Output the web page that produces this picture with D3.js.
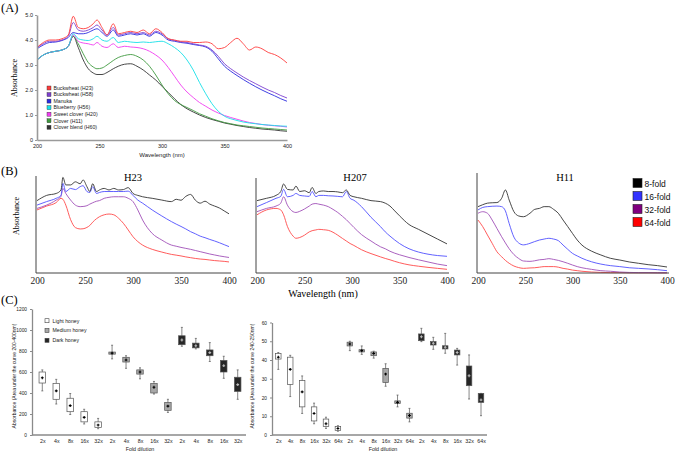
<!DOCTYPE html>
<html>
<head>
<meta charset="utf-8">
<script src="https://cdn.jsdelivr.net/npm/d3@7"></script>
<style>
  body { margin: 0; background: #fff; }
  svg { display: block; }
  text { font-family: "Liberation Sans", Arial, sans-serif; }
  .serif { font-family: "Liberation Serif", "Times New Roman", serif; }
</style>
</head>
<body>
<svg></svg>
<script>
// ---------- data: panel A (spectra of 7 honeys) ----------
const wlA = [200,205,210,215,220,225,229,233,237,241,245,248,252,256,261,265,270,275,280,285,290,295,300,305,310,315,320,325,330,335,340,345,350,355,360,365,370,375,380,385,390,395,400];
const namesA = ['Buckwheat (H23)','Buckwheat (H58)','Manuka','Blueberry (H56)','Sweet clover (H20)','Clover (H11)','Clover blend (H60)'];
const colorsA = ['#ff3b3b','#7d3fd0','#2b2be0','#17e0e8','#f03cf0','#3f9a3f','#333333'];
const absH23 = [3.7,3.9,4.0,4.0,4.05,4.2,4.95,4.5,4.45,4.5,4.65,4.8,4.5,4.2,4.65,4.25,4.3,4.35,4.3,4.4,4.25,4.45,4.3,4.05,4.0,3.95,3.95,3.9,3.9,3.92,3.85,3.65,3.7,3.9,4.07,3.85,3.6,3.72,3.65,3.5,3.42,3.28,3.08];
const absH58 = [3.7,3.85,3.95,3.95,4.0,4.15,4.7,4.4,4.35,4.4,4.5,4.6,4.4,4.2,4.5,4.2,4.25,4.3,4.25,4.3,4.2,4.35,4.25,4.05,3.98,3.93,3.9,3.85,3.8,3.75,3.6,3.35,3.05,2.85,2.68,2.52,2.38,2.25,2.12,2.0,1.9,1.78,1.68];
const absManuka = [3.65,3.8,3.9,3.92,3.98,4.1,4.3,4.25,4.25,4.3,4.4,4.45,4.3,4.15,4.4,4.15,4.2,4.25,4.2,4.25,4.15,4.3,4.2,4.0,3.95,3.9,3.87,3.82,3.78,3.72,3.55,3.25,2.95,2.75,2.58,2.42,2.27,2.13,2.0,1.88,1.77,1.65,1.55];
const absH56 = [3.2,3.4,3.5,3.55,3.6,3.75,4.25,4.05,4.0,3.98,4.05,4.15,4.0,3.95,4.1,3.9,3.95,3.92,3.9,3.92,3.9,3.93,3.95,3.85,3.7,3.5,3.2,2.8,2.3,1.85,1.45,1.15,0.95,0.85,0.78,0.72,0.68,0.65,0.62,0.6,0.58,0.56,0.55];
const absH20 = [3.2,3.4,3.5,3.55,3.6,3.75,4.2,3.95,3.88,3.85,3.8,3.9,3.75,3.7,3.85,3.7,3.75,3.72,3.7,3.65,3.55,3.4,3.2,2.9,2.55,2.2,1.92,1.7,1.5,1.35,1.2,1.08,0.98,0.9,0.83,0.76,0.7,0.66,0.62,0.59,0.57,0.55,0.52];
const absH11 = [3.2,3.4,3.5,3.55,3.6,3.75,4.15,3.85,3.45,3.1,2.92,2.85,2.88,3.0,3.18,3.3,3.38,3.42,3.35,3.2,2.95,2.6,2.2,1.85,1.58,1.42,1.3,1.18,1.05,0.95,0.85,0.77,0.7,0.65,0.6,0.57,0.54,0.51,0.48,0.46,0.44,0.42,0.4];
const absH60 = [3.2,3.4,3.5,3.55,3.6,3.75,4.15,3.7,3.2,2.85,2.68,2.62,2.62,2.7,2.85,2.95,3.03,3.05,2.95,2.8,2.6,2.4,2.15,1.9,1.65,1.42,1.25,1.12,1.0,0.9,0.82,0.75,0.68,0.63,0.58,0.54,0.5,0.47,0.44,0.42,0.4,0.37,0.35];
const seriesA = [absH23, absH58, absManuka, absH56, absH20, absH11, absH60];

// ---------- data: panel B (dilution series) ----------
const foldNames = ['8-fold','16-fold','32-fold','64-fold'];
const foldColors = ['#333333','#5050ff','#a050b8','#ff4a4a'];
const legendColors = ['#000000','#3333ff','#800080','#ff0000'];

const wlB23 = [200,210,220,225,227,230,235,240,245,248,252,255,258,262,265,270,275,280,285,290,295,300,305,310,320,330,340,345,350,355,360,365,370,375,380,385,390,395,400];
const b23_8 = [3.73,4.0,4.1,4.28,4.93,4.54,4.54,4.7,4.6,4.8,4.45,4.2,4.6,4.2,4.28,4.36,4.28,4.36,4.28,4.3,4.4,4.1,4.0,3.93,3.85,3.76,3.68,3.8,3.75,3.95,4.05,3.75,3.6,3.7,3.55,3.45,3.35,3.2,3.05];
const b23_16 = [3.5,3.68,3.85,4.0,4.62,4.2,4.36,4.3,4.45,4.5,4.2,4.15,4.45,4.1,4.15,4.2,4.2,4.2,4.2,4.2,4.22,4.0,3.76,3.6,3.25,2.94,2.65,2.52,2.4,2.27,2.13,2.02,1.9,1.82,1.73,1.65,1.56,1.46,1.36];
const b23_32 = [3.33,3.5,3.76,3.95,4.36,4.1,3.76,3.5,3.42,3.43,3.47,3.55,3.62,3.7,3.73,3.85,3.9,3.93,3.93,3.93,3.85,3.68,3.25,2.73,2.04,1.7,1.44,1.38,1.32,1.27,1.22,1.16,1.1,1.04,0.98,0.93,0.88,0.84,0.8];
const b23_64 = [3.25,3.45,3.63,3.85,3.8,3.5,2.75,2.34,2.27,2.28,2.35,2.45,2.62,2.8,2.9,3.0,3.04,3.0,2.82,2.56,2.22,1.87,1.62,1.44,1.22,1.08,0.96,0.92,0.88,0.83,0.79,0.75,0.72,0.7,0.67,0.64,0.62,0.6,0.57];

const wlB207 = [200,210,220,225,228,232,238,241,245,250,255,258,262,265,270,275,280,285,290,294,298,302,310,320,330,335,340,345,350,360,370,380,390,400];
const b207_8 = [3.73,3.85,4.0,4.2,4.59,4.31,4.28,4.48,4.2,4.24,4.14,4.41,4.1,4.2,4.23,4.2,4.2,4.18,4.14,4.28,4.0,3.93,3.85,3.73,3.68,3.6,3.45,3.2,2.95,2.5,2.25,2.0,1.75,1.5];
const b207_16 = [3.42,3.63,3.85,3.95,4.31,3.93,4.0,4.1,4.0,3.97,3.95,4.2,3.93,4.0,4.0,3.98,3.97,3.95,3.93,4.2,3.85,3.75,3.42,2.87,2.39,2.12,1.9,1.7,1.52,1.25,1.08,0.97,0.9,0.86];
const b207_32 = [3.16,3.33,3.45,3.6,3.93,3.5,3.16,3.12,3.18,3.3,3.45,3.55,3.58,3.55,3.5,3.42,3.28,3.12,2.92,2.75,2.55,2.35,1.98,1.65,1.35,1.25,1.12,1.02,0.94,0.8,0.68,0.57,0.46,0.38];
const b207_64 = [3.0,3.25,3.33,3.25,3.0,2.4,1.9,1.79,1.83,1.95,2.12,2.18,2.22,2.25,2.23,2.2,2.1,1.95,1.78,1.65,1.52,1.42,1.2,1.0,0.83,0.75,0.68,0.6,0.53,0.42,0.35,0.29,0.24,0.19];

const wlB11 = [200,205,210,215,220,225,229,233,238,243,248,255,260,265,270,275,280,285,290,295,300,305,310,320,330,340,350,360,370,380,390,400];
const b11_8 = [3.42,3.52,3.6,3.62,3.63,3.85,4.28,3.76,3.16,2.94,2.9,3.08,3.28,3.33,3.42,3.42,3.28,3.08,2.73,2.39,2.04,1.7,1.44,1.13,0.93,0.76,0.67,0.57,0.5,0.43,0.38,0.31];
const b11_16 = [3.25,3.38,3.42,3.44,3.45,3.42,3.2,2.55,1.85,1.55,1.45,1.53,1.62,1.7,1.75,1.79,1.75,1.67,1.44,1.22,1.01,0.88,0.76,0.58,0.46,0.38,0.33,0.27,0.24,0.21,0.17,0.12];
const b11_32 = [3.08,3.16,3.08,2.73,2.3,1.87,1.55,1.25,0.95,0.75,0.62,0.6,0.63,0.68,0.7,0.74,0.7,0.65,0.58,0.5,0.41,0.33,0.27,0.19,0.12,0.09,0.05,0.03,0.02,0.02,0.01,0.01];
const b11_64 = [2.73,2.39,1.96,1.53,1.1,0.84,0.65,0.5,0.36,0.28,0.24,0.26,0.27,0.3,0.33,0.33,0.33,0.3,0.24,0.2,0.15,0.12,0.09,0.05,0.03,0.02,0.02,0.01,0.01,0.01,0.01,0.01];

// ---------- data: panel C (box plots: min, q1, median, q3, max) ----------
const honeyTypes = ['Light honey','Medium honey','Dark honey'];
const honeyFills = ['#ffffff','#a8a8a8','#262626'];
const foldsLeft = ['2x','4x','8x','16x','32x'];
const foldsRight = ['2x','4x','8x','16x','32x','64x'];
const aucLight = [[420,495,545,600,620],[295,340,420,492,530],[195,222,280,350,395],[105,125,168,222,245],[60,72,95,125,158]];
const aucMedium = [[725,770,780,790,855],[635,695,715,740,755],[535,580,600,620,640],[390,400,455,490,510],[215,235,275,310,340]];
const aucDark = [[845,860,905,945,1025],[820,830,850,875,920],[700,755,785,810,880],[540,600,660,710,750],[340,415,480,550,620]];
const peakLight = [[35,40.5,41.5,43.5,44],[20.5,27,35,41.5,42.5],[11.5,15,23,29,31.5],[6,7.5,11.5,15,17],[3.5,4.5,6,8.5,9.5],[2,2.5,3.5,4.5,5]];
const peakMedium = [[45,47.5,48.5,49.5,50],[43,44.3,45,45.5,47.5],[41,42.3,43.5,44.3,44.7],[26,28,32.5,35.5,38],[15,16.8,17.4,18.2,21.3],[7,9,10.4,11.6,14.2]];
const peakDark = [[49.8,50.3,52.4,53.9,56.9],[45.7,48,48.9,49.8,52.1],[43.6,45.9,46.8,47.6,54.2],[37.3,42.7,44,45.3,46.2],[19.2,26.3,31.6,36.8,42.7],[10.3,17.4,18.7,22.2,22.2]];

const size = {w: 675, h: 452};
const svg = d3.select('svg').attr('width', size.w).attr('height', size.h);

function panelLabel(txt, x, y) {
  svg.append('text').attr('class', 'serif').attr('x', x).attr('y', y)
    .style('font-size', '12.5px').text(txt);
}

// style an axis group: gray line, small text
function styleAxis(g, color, width, fontSize, serif) {
  g.select('.domain').attr('stroke', color).attr('stroke-width', width);
  g.selectAll('.tick line').attr('stroke', color);
  g.selectAll('.tick text').attr('fill', '#222').style('font-size', fontSize)
    .attr('class', serif ? 'serif' : null);
}

// ================= panel A =================
function drawA() {
  const x = d3.scaleLinear().domain([200, 400]).range([37, 287]);
  const y = d3.scaleLinear().domain([0, 5]).range([140, 15]);
  const g = svg.append('g');

  const line = d3.line().x((d, i) => x(wlA[i])).y(d => y(d)).curve(d3.curveMonotoneX);
  // draw from the back (clover blend) to the front (buckwheat)
  for (let i = seriesA.length - 1; i >= 0; i--) {
    g.append('path').datum(seriesA[i]).attr('d', line)
      .attr('fill', 'none').attr('stroke', colorsA[i]).attr('stroke-width', 0.9);
  }

  const xa = g.append('g').attr('transform', 'translate(0,140)')
    .call(d3.axisBottom(x).tickValues([200, 250, 300, 350, 400]).tickSize(0).tickSizeOuter(0).tickPadding(4));
  styleAxis(xa, '#9a9a9a', 1.6, '5.5px');
  const ya = g.append('g').attr('transform', 'translate(37,0)')
    .call(d3.axisLeft(y).tickValues([0, 1, 2, 3, 4, 5]).tickFormat(d => d === 0 ? '0' : d.toFixed(1)).tickSize(2).tickSizeOuter(0).tickPadding(2));
  styleAxis(ya, '#9a9a9a', 1.6, '5.5px');

  g.append('text').attr('x', 162).attr('y', 157).attr('text-anchor', 'middle')
    .style('font-size', '6px').attr('fill', '#222').text('Wavelength (nm)');
  g.append('text').attr('class', 'serif').attr('transform', 'translate(17,78) rotate(-90)')
    .attr('text-anchor', 'middle').style('font-size', '8px').text('Absorbance');

  // legend
  const leg = g.selectAll('.legA').data(namesA).enter().append('g')
    .attr('transform', (d, i) => `translate(47,${86 + i * 6.55})`);
  leg.append('rect').attr('width', 4).attr('height', 4)
    .attr('fill', (d, i) => colorsA[i]).attr('stroke', '#333').attr('stroke-width', 0.4);
  leg.append('text').attr('x', 6.5).attr('y', 3.8).style('font-size', '5.2px').attr('fill', '#222').text(d => d);

  panelLabel('(A)', 1, 12);
}

// ================= panel B =================
function drawB() {
  const subs = [
    {name: 'H23', wl: wlB23, ys: [b23_8, b23_16, b23_32, b23_64], x0: 37, x1: 229, top: 176, tx: 133},
    {name: 'H207', wl: wlB207, ys: [b207_8, b207_16, b207_32, b207_64], x0: 257, x1: 447, top: 178, tx: 355},
    {name: 'H11', wl: wlB11, ys: [b11_8, b11_16, b11_32, b11_64], x0: 478, x1: 667, top: 173, tx: 565}
  ];
  subs.forEach(function (s) {
    const x = d3.scaleLinear().domain([200, 400]).range([s.x0, s.x1]);
    const y = d3.scaleLinear().domain([0, 5]).range([273, 176]);
    const g = svg.append('g');
    const line = d3.line().x((d, i) => x(s.wl[i])).y(d => y(d)).curve(d3.curveMonotoneX);
    for (let k = s.ys.length - 1; k >= 0; k--) {
      g.append('path').datum(s.ys[k]).attr('d', line)
        .attr('fill', 'none').attr('stroke', foldColors[k]).attr('stroke-width', 0.9);
    }
    const xa = g.append('g').attr('transform', 'translate(0,273)')
      .call(d3.axisBottom(x).tickValues([200, 250, 300, 350, 400]).tickSize(0).tickSizeOuter(0).tickPadding(4));
    xa.select('.domain').attr('d', `M${s.x0 - 1},0H${s.x1 + 2}`);
    styleAxis(xa, '#444', 1, '9.5px', true);
    g.append('line').attr('x1', s.x0 - 1).attr('x2', s.x0 - 1).attr('y1', s.top).attr('y2', 273)
      .attr('stroke', '#444').attr('stroke-width', 1);
    g.append('text').attr('class', 'serif').attr('x', s.tx).attr('y', 181)
      .attr('text-anchor', 'middle').style('font-size', '10.5px').text(s.name);
  });

  svg.append('text').attr('class', 'serif').attr('x', 323).attr('y', 297)
    .attr('text-anchor', 'middle').style('font-size', '10px').text('Wavelength (nm)');
  svg.append('text').attr('class', 'serif').attr('transform', 'translate(19,216) rotate(-90)')
    .attr('text-anchor', 'middle').style('font-size', '8px').text('Absorbance');

  const leg = svg.selectAll('.legB').data(foldNames).enter().append('g')
    .attr('transform', (d, i) => `translate(633,${178.5 + i * 13})`);
  leg.append('rect').attr('width', 9).attr('height', 9)
    .attr('fill', (d, i) => legendColors[i]).attr('stroke', '#222').attr('stroke-width', 0.6);
  leg.append('text').attr('x', 11.5).attr('y', 8).style('font-size', '8.5px').attr('fill', '#111').text(d => d);

  panelLabel('(B)', 1, 175);
}

// ================= panel C =================
function drawBoxPanel(opt) {
  const g = svg.append('g');
  const labels = [];
  const boxes = [];
  opt.groups.forEach(function (grp, gi) {
    grp.forEach(function (b, j) {
      labels.push(opt.folds[j]);
      boxes.push({v: b, type: gi, idx: labels.length - 1});
    });
  });
  const x = d3.scalePoint().domain(d3.range(labels.length)).range(opt.xr);
  const y = d3.scaleLinear().domain(opt.yd).range([435, opt.yTop]);
  const bw = opt.bw;

  const xa = g.append('g').attr('transform', 'translate(0,435)')
    .call(d3.axisBottom(x).tickFormat(i => labels[i]).tickSize(0).tickPadding(4));
  xa.select('.domain').attr('d', `M${opt.axX},0H${opt.axEnd}`);
  styleAxis(xa, '#8a8a8a', 1.3, '5.3px');
  const ya = g.append('g').attr('transform', `translate(${opt.axX},0)`)
    .call(d3.axisLeft(y).tickValues(opt.ticks).tickFormat(d3.format('d')).tickSize(2).tickSizeOuter(0).tickPadding(3));
  styleAxis(ya, '#8a8a8a', 1.3, '4.8px');

  const bg = g.selectAll('.box').data(boxes).enter().append('g')
    .attr('transform', d => `translate(${x(d.idx)},0)`);
  // whiskers
  bg.append('line').attr('y1', d => y(d.v[0])).attr('y2', d => y(d.v[4]))
    .attr('stroke', '#555').attr('stroke-width', 0.7);
  bg.append('line').attr('x1', -1).attr('x2', 1).attr('y1', d => y(d.v[0])).attr('y2', d => y(d.v[0]))
    .attr('stroke', '#555').attr('stroke-width', 0.7);
  bg.append('line').attr('x1', -1).attr('x2', 1).attr('y1', d => y(d.v[4])).attr('y2', d => y(d.v[4]))
    .attr('stroke', '#555').attr('stroke-width', 0.7);
  // box
  bg.append('rect').attr('x', -bw / 2).attr('width', bw)
    .attr('y', d => y(d.v[3])).attr('height', d => Math.max(1.5, y(d.v[1]) - y(d.v[3])))
    .attr('fill', d => honeyFills[d.type]).attr('stroke', '#555').attr('stroke-width', 0.7);
  // median marker
  bg.append('path').attr('d', d => `M-1.4,${y(d.v[2])}H1.4M0,${y(d.v[2]) - 1.4}V${y(d.v[2]) + 1.4}`)
    .attr('stroke', d => d.type === 2 ? '#bbb' : '#000').attr('stroke-width', 1.1);

  g.append('text').attr('x', opt.titleX).attr('y', 450.5).attr('text-anchor', 'middle')
    .style('font-size', '5.3px').attr('fill', '#222').text('Fold dilution');
  g.append('text').attr('transform', `translate(${opt.yTitleX},376) rotate(-90)`)
    .attr('text-anchor', 'middle').style('font-size', '5px').attr('fill', '#222').text(opt.yTitle);
  return g;
}

function drawC() {
  drawBoxPanel({
    groups: [aucLight, aucMedium, aucDark], folds: foldsLeft,
    xr: [42.3, 237.7], yd: [0, 1200], yTop: 309, ticks: [0, 200, 400, 600, 800, 1000, 1200],
    axX: 32, axEnd: 246, bw: 6.5, titleX: 140, yTitleX: 16,
    yTitle: 'Absorbance (Area under the curve 200-400nm)'
  });
  drawBoxPanel({
    groups: [peakLight, peakMedium, peakDark], folds: foldsRight,
    xr: [278.3, 481], yd: [0, 60], yTop: 322.5, ticks: [0, 10, 20, 30, 40, 50, 60],
    axX: 272, axEnd: 487, bw: 5.5, titleX: 383, yTitleX: 253.5,
    yTitle: 'Absorbance (Area under the curve 240-250nm)'
  });

  const leg = svg.selectAll('.legC').data(honeyTypes).enter().append('g')
    .attr('transform', (d, i) => `translate(45,${318.7 + i * 9.8})`);
  leg.append('rect').attr('width', 4).attr('height', 4)
    .attr('fill', (d, i) => honeyFills[i]).attr('stroke', '#444').attr('stroke-width', 0.6);
  leg.append('text').attr('x', 7.5).attr('y', 3.9).style('font-size', '5.2px').attr('fill', '#222').text(d => d);

  panelLabel('(C)', 1, 304);
}

drawA();
drawB();
drawC();
</script>
</body>
</html>
